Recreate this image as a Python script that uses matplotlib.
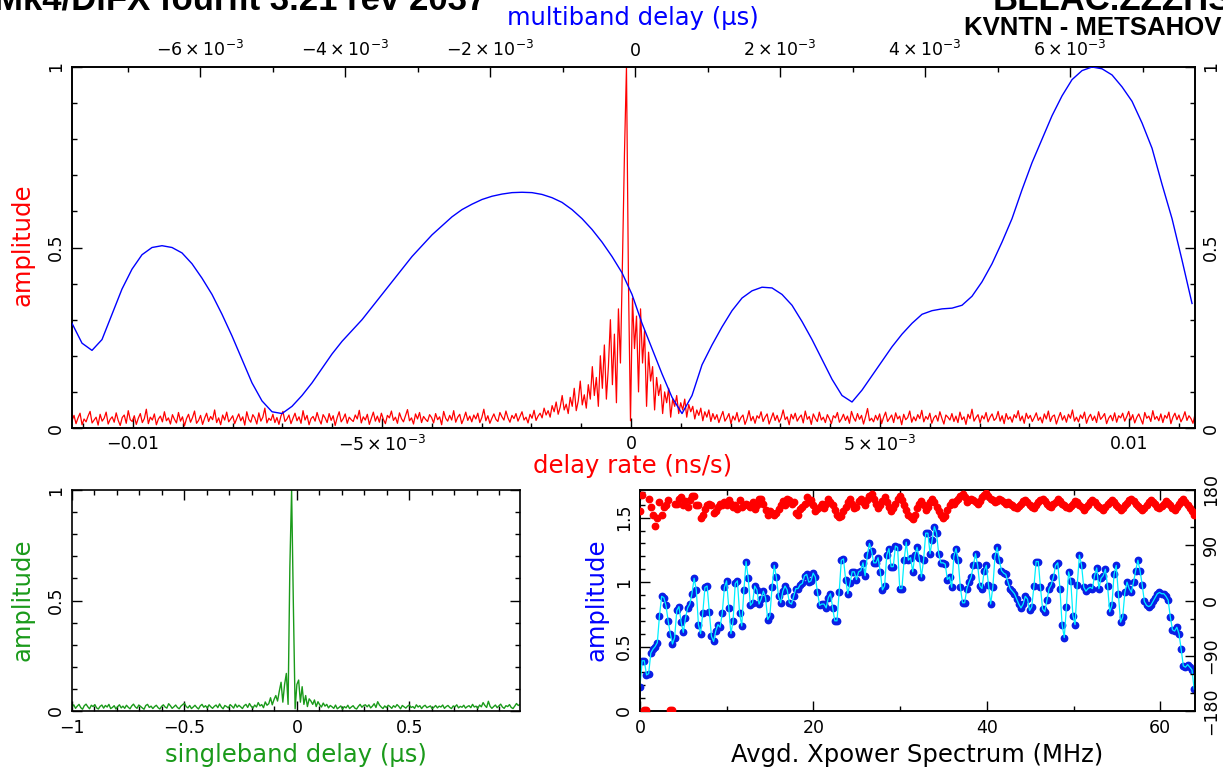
import numpy as np
import matplotlib
matplotlib.use("Agg")
import matplotlib.pyplot as plt
from matplotlib.ticker import MultipleLocator, FixedLocator, FixedFormatter

plt.rcParams['font.family'] = ['DejaVu Sans']
plt.rcParams['mathtext.fontset'] = 'dejavusans'

# ---------------- data ----------------
# delay-rate amplitude (red), uniform grid over the bottom axis range
rate_amp = [
 .020,.035,.012,.028,.041,.009,.025,.017,.033,.046,.014,.022,.030,.008,.038,.019,.027,.044,.011,.024,
 .031,.016,.042,.021,.007,.029,.036,.013,.048,.023,.018,.034,.010,.027,.040,.015,.026,.052,.012,.030,
 .022,.039,.009,.025,.033,.017,.045,.020,.028,.011,.037,.024,.014,.043,.019,.031,.006,.026,.038,.016,
 .029,.047,.013,.021,.035,.010,.027,.041,.018,.032,.023,.050,.015,.028,.009,.036,.022,.044,.017,.025,
 .034,.012,.026,.039,.020,.031,.008,.045,.024,.016,.037,.028,.011,.042,.019,.030,.055,.014,.027,.021,
 .038,.015,.029,.010,.033,.046,.018,.025,.036,.012,.027,.041,.020,.031,.013,.048,.022,.035,.009,.026,
 .032,.019,.043,.024,.011,.037,.028,.015,.040,.021,.034,.007,.029,.045,.017,.026,.039,.013,.030,.023,
 .018,.036,.025,.049,.014,.031,.022,.038,.010,.027,.044,.019,.033,.016,.041,.024,.012,.035,.028,.047,
 .021,.030,.013,.042,.026,.017,.034,.051,.020,.028,.011,.039,.025,.043,.015,.032,.024,.018,.037,.029,
 .014,.040,.023,.031,.009,.046,.027,.019,.035,.022,.048,.016,.030,.038,.012,.026,.044,.021,.033,.017,
 .036,.025,.041,.015,.029,.052,.020,.034,.013,.027,.039,.024,.018,.043,.031,.022,.047,.028,.016,.035,
 .026,.040,.019,.032,.045,.022,.030,.014,.038,.027,.049,.021,.033,.041,.028,.055,.036,.048,.030,.062,
 .045,.072,.038,.058,.090,.050,.066,.040,.085,.060,.110,.048,.075,.130,.064,.092,.055,.120,.080,.170,
 .090,.140,.060,.200,.110,.230,.080,.170,.300,.120,.260,.070,.330,.180,.460,.760,1.00,.400,.020,.360,
 .220,.310,.100,.330,.180,.270,.060,.210,.130,.170,.050,.140,.090,.120,.040,.100,.070,.110,.030,.080,
 .060,.090,.040,.070,.050,.080,.030,.065,.045,.060,.025,.050,.035,.055,.020,.045,.030,.050,.018,.040,
 .024,.037,.015,.031,.046,.019,.028,.040,.012,.033,.022,.043,.017,.029,.036,.010,.025,.048,.020,.032,
 .013,.034,.027,.045,.018,.030,.039,.011,.026,.042,.021,.035,.016,.028,.050,.023,.031,.009,.038,.025,
 .041,.019,.029,.036,.014,.047,.024,.032,.010,.039,.027,.018,.044,.022,.030,.015,.037,.026,.012,.034,
 .028,.043,.016,.025,.038,.021,.033,.013,.046,.029,.019,.040,.024,.035,.011,.031,.054,.020,.027,.017,
 .035,.022,.039,.012,.030,.044,.018,.027,.036,.015,.042,.025,.033,.009,.038,.023,.029,.047,.016,.031,
 .020,.037,.026,.049,.017,.032,.024,.041,.013,.028,.035,.019,.045,.027,.011,.036,.030,.022,.040,.018,
 .033,.015,.044,.023,.031,.010,.038,.026,.052,.019,.029,.037,.014,.034,.025,.043,.017,.030,.039,.021,
 .027,.046,.019,.034,.012,.040,.024,.031,.016,.037,.028,.048,.020,.033,.013,.041,.026,.035,.018,.029,
 .042,.021,.030,.014,.039,.025,.047,.018,.032,.036,.011,.028,.043,.022,.034,.016,.038,.027,.050,.019,
 .030,.017,.036,.026,.044,.013,.029,.038,.021,.033,.015,.045,.024,.031,.040,.012,.027,.035,.020,.042,
 .016,.034,.028,.041,.019,.031,.046,.022,.037,.014,.029,.039,.025,.011,.043,.027,.033,.018,.048,.024,
 .032,.020,.039,.015,.035,.027,.044,.012,.030,.041,.023,.036,.017,.028,.045,.021,.034,.026,.013,.038,
]
rate_range = (-0.011225, 0.011325)

# multiband delay amplitude (blue)
mbd_amp = [
 0.29,0.235,0.215,0.245,0.315,0.385,0.44,0.48,0.50,0.505,0.50,0.485,0.455,0.415,0.37,0.315,
 0.255,0.19,0.125,0.075,0.045,0.04,0.06,0.09,0.125,0.165,0.205,0.24,0.27,0.30,0.335,0.37,
 0.405,0.44,0.475,0.505,0.535,0.56,0.585,0.605,0.62,0.633,0.642,0.648,0.652,0.653,0.652,0.647,
 0.638,0.625,0.605,0.58,0.55,0.515,0.475,0.43,0.37,0.29,0.22,0.15,0.085,0.04,0.09,0.175,
 0.23,0.28,0.325,0.36,0.38,0.39,0.388,0.37,0.34,0.295,0.245,0.19,0.135,0.09,0.072,0.105,
 0.145,0.185,0.225,0.26,0.29,0.315,0.325,0.33,0.332,0.34,0.365,0.405,0.455,0.515,0.58,0.66,
 0.735,0.80,0.865,0.92,0.965,0.99,1.0,0.995,0.978,0.945,0.905,0.845,0.775,0.675,0.58,0.465,0.345,
]
mbd_range = (-7.766e-3, 7.683e-3)

# singleband delay amplitude (green)
sbd_amp = [
 .018,.028,.012,.022,.030,.015,.008,.024,.031,.019,.010,.026,.020,.029,.014,.009,
 .021,.027,.013,.025,.018,.030,.011,.016,.024,.009,.020,.028,.014,.022,.012,.026,
 .017,.010,.023,.031,.019,.012,.027,.021,.014,.008,.025,.030,.016,.022,.011,.020,
 .026,.015,.009,.021,.028,.018,.013,.033,.024,.012,.019,.027,.016,.010,.022,.029,
 .035,.020,.014,.025,.011,.018,.026,.016,.009,.023,.030,.017,.024,.013,.028,.019,
 .012,.021,.027,.015,.032,.018,.010,.025,.020,.014,.029,.022,.013,.031,.017,.026,
 .019,.011,.024,.030,.016,.034,.021,.013,.027,.018,.038,.023,.029,.015,.041,.026,
 .033,.060,.028,.052,.070,.045,.090,.130,.040,.120,.170,.030,.650,1.00,.480,.010,
 .120,.140,.040,.110,.030,.070,.020,.055,.045,.030,.050,.020,.042,.028,.018,.036,
 .022,.030,.014,.025,.019,.012,.027,.010,.016,.023,.008,.020,.014,.026,.011,.018,
 .024,.013,.009,.021,.030,.017,.025,.028,.019,.028,.014,.022,.033,.016,.042,.027,
 .018,.011,.023,.015,.026,.020,.012,.024,.017,.029,.021,.010,.025,.019,.013,.022,
 .027,.016,.020,.012,.028,.018,.024,.011,.021,.026,.015,.019,.023,.010,.017,.025,
 .014,.022,.018,.027,.012,.020,.025,.016,.011,.023,.019,.028,.014,.021,.017,.026,
 .013,.020,.024,.015,.030,.018,.022,.012,.027,.019,.038,.025,.016,.044,.021,.012,
 .020,.027,.015,.023,.031,.018,.012,.024,.020,.029,.016,.011,.022,.034,.025,.030,
]
sbd_range = (-1.0, 0.992)

# cross-power spectrum amplitude (blue dots) and phase (red dots)
xp_amp = [
 0.19,0.39,0.39,0.28,0.29,0.45,0.48,0.50,0.53,0.74,
 0.89,0.88,0.82,0.70,0.60,0.52,0.57,0.78,0.81,0.69,
 0.61,0.72,0.80,0.83,0.91,1.03,0.94,0.67,0.60,0.76,
 0.96,0.97,0.77,0.58,0.54,0.62,0.67,0.65,0.76,0.96,
 1.01,0.80,0.60,0.70,0.99,1.01,0.76,0.66,0.94,1.16,
 1.03,0.82,0.84,0.97,0.94,0.83,0.87,0.93,0.88,0.71,
 0.74,0.96,1.13,1.04,0.89,0.84,0.93,0.97,0.94,0.84,
 0.83,0.89,0.95,0.95,0.98,0.99,1.05,1.06,1.00,1.01,
 1.07,1.04,0.92,0.82,0.83,
 0.83,0.80,0.88,0.91,0.80,0.70,0.70,0.92,1.17,1.18,
 1.02,0.91,0.99,1.08,1.08,1.02,1.08,1.09,1.15,1.05,
 1.21,1.30,1.24,1.15,1.15,1.19,1.08,0.94,0.97,1.21,
 1.26,1.12,1.12,1.28,1.27,0.95,0.95,1.17,1.31,1.17,
 1.19,1.08,1.21,1.27,1.19,1.04,1.17,1.38,1.38,1.22,
 1.33,1.43,1.38,1.22,1.15,1.15,1.14,1.02,1.04,0.96,
 1.20,1.26,1.17,0.96,0.84,0.84,0.95,1.00,1.04,1.13,
 1.22,1.13,0.97,0.95,1.09,1.13,0.98,0.83,0.96,1.20,
 1.27,1.17,1.09,1.07,1.06,1.00,0.95,0.93,0.91,0.87,
 0.83,0.80,0.83,0.89,0.87,0.78,0.81,0.97,1.16,1.16,
 0.96,0.79,0.77,0.86,0.95,0.98,1.04,1.13,1.15,0.95,
 0.67,0.57,0.81,1.08,1.01,0.74,0.67,0.98,1.21,1.13,
 0.96,0.93,0.95,0.96,0.95,1.05,1.11,0.95,1.03,1.05,
 1.10,0.97,0.77,0.82,1.06,1.13,0.91,0.69,0.73,0.92,
 1.00,0.95,0.92,1.00,1.09,1.17,1.09,0.98,0.85,0.82,
 0.81,0.82,0.85,0.88,0.91,0.92,0.91,0.91,0.89,0.86,
 0.73,0.63,0.62,0.65,0.60,0.48,0.35,0.34,0.36,0.34,
 0.32,0.17,
]
xp_phase = [
 146,172,-178,-178,165,153,139,122,134,160,
 140,153,155,163,-178,-178,157,158,165,169,
 155,162,152,164,171,171,156,156,134,140,
 149,155,157,156,142,145,152,158,156,160,
 155,163,158,152,156,149,163,152,155,158,
 156,153,160,149,156,165,165,157,148,140,
 146,143,140,143,149,155,162,155,165,164,
 158,160,143,140,149,153,157,169,160,163,
 156,146,149,152,157,
 150,158,165,160,155,148,140,136,138,145,152,160,165,158,150,153,162,166,160,155,
 163,170,173,165,158,150,155,162,168,160,152,146,150,158,165,170,163,155,148,140,
 136,132,140,150,158,162,155,148,153,160,166,160,152,145,140,135,138,147,156,160,
 158,162,166,170,173,168,160,163,166,164,160,157,162,168,172,175,170,166,163,160,
 162,165,163,160,158,161,158,155,152,150,154,158,162,164,160,156,152,150,155,160,
 164,166,162,158,154,152,157,161,165,162,158,155,152,150,154,158,162,160,156,152,
 148,152,156,160,163,160,156,153,150,148,152,157,161,164,160,156,152,148,150,155,
 159,163,166,162,158,154,150,147,151,156,160,163,161,157,153,150,154,158,162,159,
 155,151,148,152,157,162,165,160,155,150,146,140,
]
xp_freq_range = (0.0, 63.9)

rate_ticks = [-0.01, -0.005, 0.0, 0.005, 0.01]
rate_ticklabels = ['\u22120.01', r'$-5\times10^{-3}$', '0', r'$5\times10^{-3}$', '0.01']
mbd_ticks = [-6e-3, -4e-3, -2e-3, 0.0, 2e-3, 4e-3, 6e-3]
mbd_ticklabels = [r'$-6\times10^{-3}$', r'$-4\times10^{-3}$', r'$-2\times10^{-3}$', '0',
                  r'$2\times10^{-3}$', r'$4\times10^{-3}$', r'$6\times10^{-3}$']

# ---------------- figure ----------------
W, H = 1223, 782
fig = plt.figure(figsize=(W / 100, H / 100), dpi=100)

def rect(x0, y0, x1, y1):
    return [x0 / W, 1 - y1 / H, (x1 - x0) / W, (y1 - y0) / H]

def ftext(x, y, s, **kw):
    fig.text(x / W, 1 - y / H, s, **kw)

TICK_FS = 12.5
LAB_FS = 17.5

def style(ax):
    for sp in ax.spines.values():
        sp.set_linewidth(1.2)
    ax.tick_params(which='both', direction='in', width=1.0, labelsize=TICK_FS)
    ax.tick_params(which='major', length=7)
    ax.tick_params(which='minor', length=3.5)

# --- top panel ---
ax1 = fig.add_axes(rect(72, 67, 1195, 428))
rx = np.linspace(rate_range[0], rate_range[1], len(rate_amp))
ax1.plot(rx, rate_amp, color='#ff0000', lw=0.9, zorder=2)
ax1.set_xlim(-0.011225, 0.011325)
ax1.set_ylim(0, 1.0)
style(ax1)
ax1.xaxis.set_major_locator(FixedLocator(rate_ticks))
ax1.xaxis.set_major_formatter(FixedFormatter(rate_ticklabels))
ax1.xaxis.set_minor_locator(MultipleLocator(0.001))
ax1.yaxis.set_major_locator(FixedLocator([0, 0.5, 1]))
ax1.yaxis.set_major_formatter(FixedFormatter(['0', '0.5', '1']))
ax1.yaxis.set_minor_locator(MultipleLocator(0.1))
ax1.tick_params(axis='x', which='both', top=False, bottom=True, pad=5)
ax1.tick_params(axis='y', which='both', left=True, right=True, labelleft=True,
                labelright=True, labelrotation=90, pad=5)
for lab in ax1.get_yticklabels():
    lab.set_va('center')

ax1t = ax1.twiny()
mx = np.linspace(mbd_range[0], mbd_range[1], len(mbd_amp))
ax1t.plot(mx, mbd_amp, color='#0000ff', lw=1.0, zorder=3)
ax1t.set_xlim(-7.766e-3, 7.724e-3)
style(ax1t)
ax1t.xaxis.set_major_locator(FixedLocator(mbd_ticks))
ax1t.xaxis.set_major_formatter(FixedFormatter(mbd_ticklabels))
ax1t.xaxis.set_minor_locator(MultipleLocator(0.001))
ax1t.tick_params(axis='x', which='both', top=True, bottom=False, labeltop=True, pad=5)

# --- bottom left ---
ax2 = fig.add_axes(rect(72, 490, 520, 711))
sx = np.linspace(sbd_range[0], sbd_range[1], len(sbd_amp))
ax2.plot(sx, sbd_amp, color='#1a9a1a', lw=1.0)
ax2.set_xlim(-1.0, 0.992)
ax2.set_ylim(0, 1.0)
style(ax2)
ax2.xaxis.set_major_locator(FixedLocator([-1, -0.5, 0, 0.5]))
ax2.xaxis.set_major_formatter(FixedFormatter(['\u22121', '\u22120.5', '0', '0.5']))
ax2.xaxis.set_minor_locator(MultipleLocator(0.1))
ax2.yaxis.set_major_locator(FixedLocator([0, 0.5, 1]))
ax2.yaxis.set_major_formatter(FixedFormatter(['0', '0.5', '1']))
ax2.yaxis.set_minor_locator(MultipleLocator(0.1))
ax2.tick_params(which='both', top=True, right=True)
ax2.tick_params(axis='x', pad=6)
ax2.tick_params(axis='y', labelrotation=90, pad=5)
for lab in ax2.get_yticklabels():
    lab.set_va('center')

# --- bottom right ---
ax3 = fig.add_axes(rect(640, 490, 1195, 711))
fx = np.linspace(xp_freq_range[0], xp_freq_range[1], len(xp_amp))
ax3.plot(fx, xp_amp, ls='none', marker='o', ms=4.6, color='#0a1ee6', mec='#0a1ee6', zorder=2)
ax3.plot(fx, xp_amp, color='#00f0ff', lw=0.9, zorder=3)
ax3.set_xlim(0, 64)
ax3.set_ylim(0, 1.715)
style(ax3)
ax3.xaxis.set_major_locator(MultipleLocator(20))
ax3.xaxis.set_minor_locator(MultipleLocator(10))
ax3.yaxis.set_major_locator(FixedLocator([0, 0.5, 1, 1.5]))
ax3.yaxis.set_major_formatter(FixedFormatter(['0', '0.5', '1', '1.5']))
ax3.yaxis.set_minor_locator(MultipleLocator(0.1))
ax3.tick_params(which='both', top=True, right=False)
ax3.tick_params(axis='x', pad=6)
ax3.tick_params(axis='y', labelrotation=90, pad=5)
for lab in ax3.get_yticklabels():
    lab.set_va('center')

ax3r = ax3.twinx()
px_ = np.linspace(xp_freq_range[0], xp_freq_range[1], len(xp_phase))
ax3r.plot(px_, xp_phase, ls='none', marker='o', ms=4.6, color='#ff0000', zorder=4)
ax3r.set_ylim(-180, 180)
style(ax3r)
ax3r.yaxis.set_major_locator(FixedLocator([-180, -90, 0, 90, 180]))
ax3r.yaxis.set_major_formatter(FixedFormatter(['\u2212180', '\u221290', '0', '90', '180']))
ax3r.yaxis.set_minor_locator(MultipleLocator(30))
ax3r.tick_params(axis='y', labelrotation=90, pad=5)
for lab in ax3r.get_yticklabels():
    lab.set_va('center')

# --- labels ---
ftext(633, 18, 'multiband delay (\u03bcs)', color='#0000ff', fontsize=LAB_FS, ha='center', va='center')
ftext(633, 466, 'delay rate (ns/s)', color='#ff0000', fontsize=LAB_FS, ha='center', va='center')
ftext(22, 245, 'amplitude', color='#ff0000', fontsize=LAB_FS, ha='center', va='center', rotation=90)
ftext(22, 600, 'amplitude', color='#1a9a1a', fontsize=LAB_FS, ha='center', va='center', rotation=90)
ftext(296, 755, 'singleband delay (\u03bcs)', color='#1a9a1a', fontsize=LAB_FS, ha='center', va='center')
ftext(597, 600, 'amplitude', color='#0000ff', fontsize=LAB_FS, ha='center', va='center', rotation=90)
ftext(917, 755, 'Avgd. Xpower Spectrum (MHz)', color='black', fontsize=LAB_FS, ha='center', va='center')

# --- titles (partly outside the canvas, as in the reference) ---
ftext(-6, 10, 'Mk4/DiFX fourfit 3.21 rev 2037', fontsize=25, fontweight='bold',
      family='Liberation Sans', ha='left', va='baseline')
ftext(1232, 10, 'BLLAC.ZZZHS', fontsize=25, fontweight='bold',
      family='Liberation Sans', ha='right', va='baseline')
ftext(1221, 35, 'KVNTN - METSAHOV', fontsize=18.5, fontweight='bold',
      family='Liberation Sans', ha='right', va='baseline')

fig.savefig('out.png', dpi=100)
